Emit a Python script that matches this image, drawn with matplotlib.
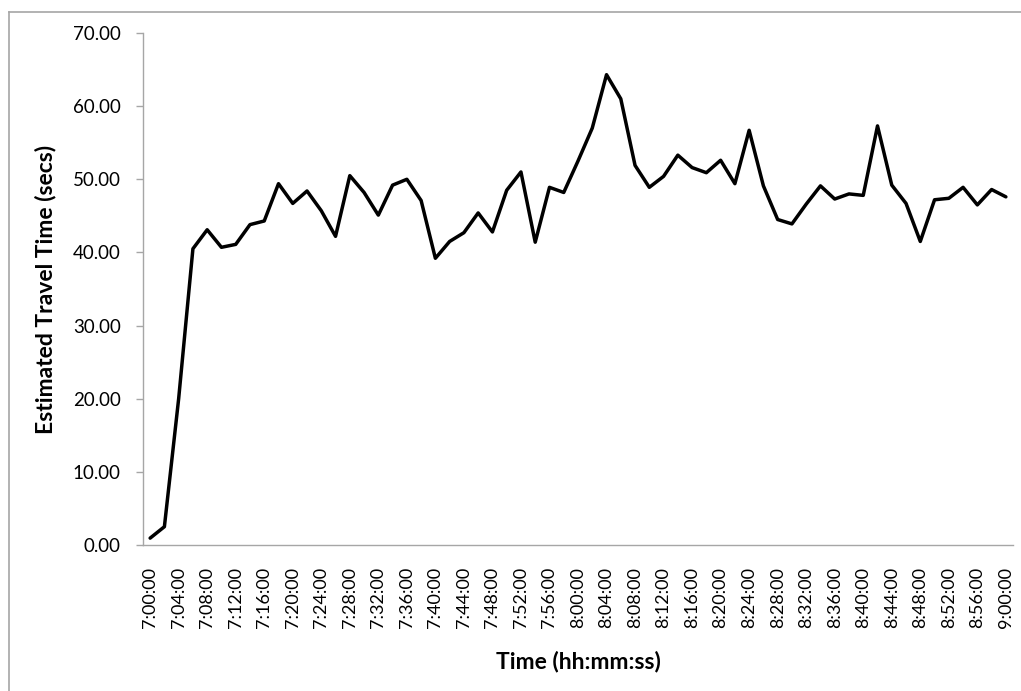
import numpy as np
import matplotlib.pyplot as plt
from matplotlib.lines import Line2D

plt.rcParams['font.family'] = ['Lato', 'DejaVu Sans']

# travel time samples, one every 2 minutes from 7:00 to 9:00
minutes = list(range(0, 121, 2))
travel_time = [0.94, 2.5, 20.0, 40.5, 43.1, 40.7, 41.1, 43.8, 44.3, 49.4,
               46.7, 48.4, 45.7, 42.2, 50.5, 48.2, 45.1, 49.2, 50.0, 47.1,
               39.2, 41.5, 42.7, 45.4, 42.8, 48.5, 51.0, 41.4, 48.9, 48.2,
               52.5, 57.0, 64.3, 61.0, 51.9, 48.9, 50.4, 53.3, 51.6, 50.9,
               52.6, 49.4, 56.7, 49.1, 44.5, 43.9, 46.6, 49.1, 47.3, 48.0,
               47.8, 57.3, 49.2, 46.7, 41.5, 47.2, 47.4, 48.9, 46.5, 48.6,
               47.6]
time_labels = ["%d:%02d:00" % (7 + m // 60, m % 60) for m in minutes]
y_ticks = [0, 10, 20, 30, 40, 50, 60, 70]

grey = '#a6a6a6'

fig = plt.figure(figsize=(10.21, 6.91), dpi=100)
ax = fig.add_axes([143/1021, 1-545/691, 870/1021, 512/691])

x = np.arange(len(minutes))
ax.plot(x, travel_time, color='black', linewidth=2.5, solid_joinstyle='round',
        solid_capstyle='round')

ax.set_xlim(-0.5, len(minutes) - 0.5)
ax.set_ylim(0, 70)
ax.set_yticks(y_ticks)
ax.set_yticklabels(["%.2f" % v for v in y_ticks], fontsize=13.5)
ax.set_xticks(x[::2])
ax.set_xticklabels(time_labels[::2], rotation=90, fontsize=13)
ax.tick_params(axis='x', length=0, pad=16)
ax.tick_params(axis='y', length=5, width=1, color=grey, pad=11)

for side in ['top', 'right']:
    ax.spines[side].set_visible(False)
for side in ['left', 'bottom']:
    ax.spines[side].set_color(grey)
    ax.spines[side].set_linewidth(1)

ax.set_xlabel("Time (hh:mm:ss)", fontsize=16.5, fontweight='bold', va='center')
ax.set_ylabel("Estimated Travel Time (secs)", fontsize=16.5, fontweight='bold', va='center')
ax.xaxis.set_label_coords(0.5, (545-662)/512)
ax.yaxis.set_label_coords((46-143)/870, 0.5)

# chart border (left and top edges)
bx = 8.5/1021
by = 1 - 11.5/691
fig.add_artist(Line2D([bx, bx], [0, by], color=grey, linewidth=1.2))
fig.add_artist(Line2D([bx, 1], [by, by], color=grey, linewidth=1.2))

fig.savefig('out.png', dpi=100)
